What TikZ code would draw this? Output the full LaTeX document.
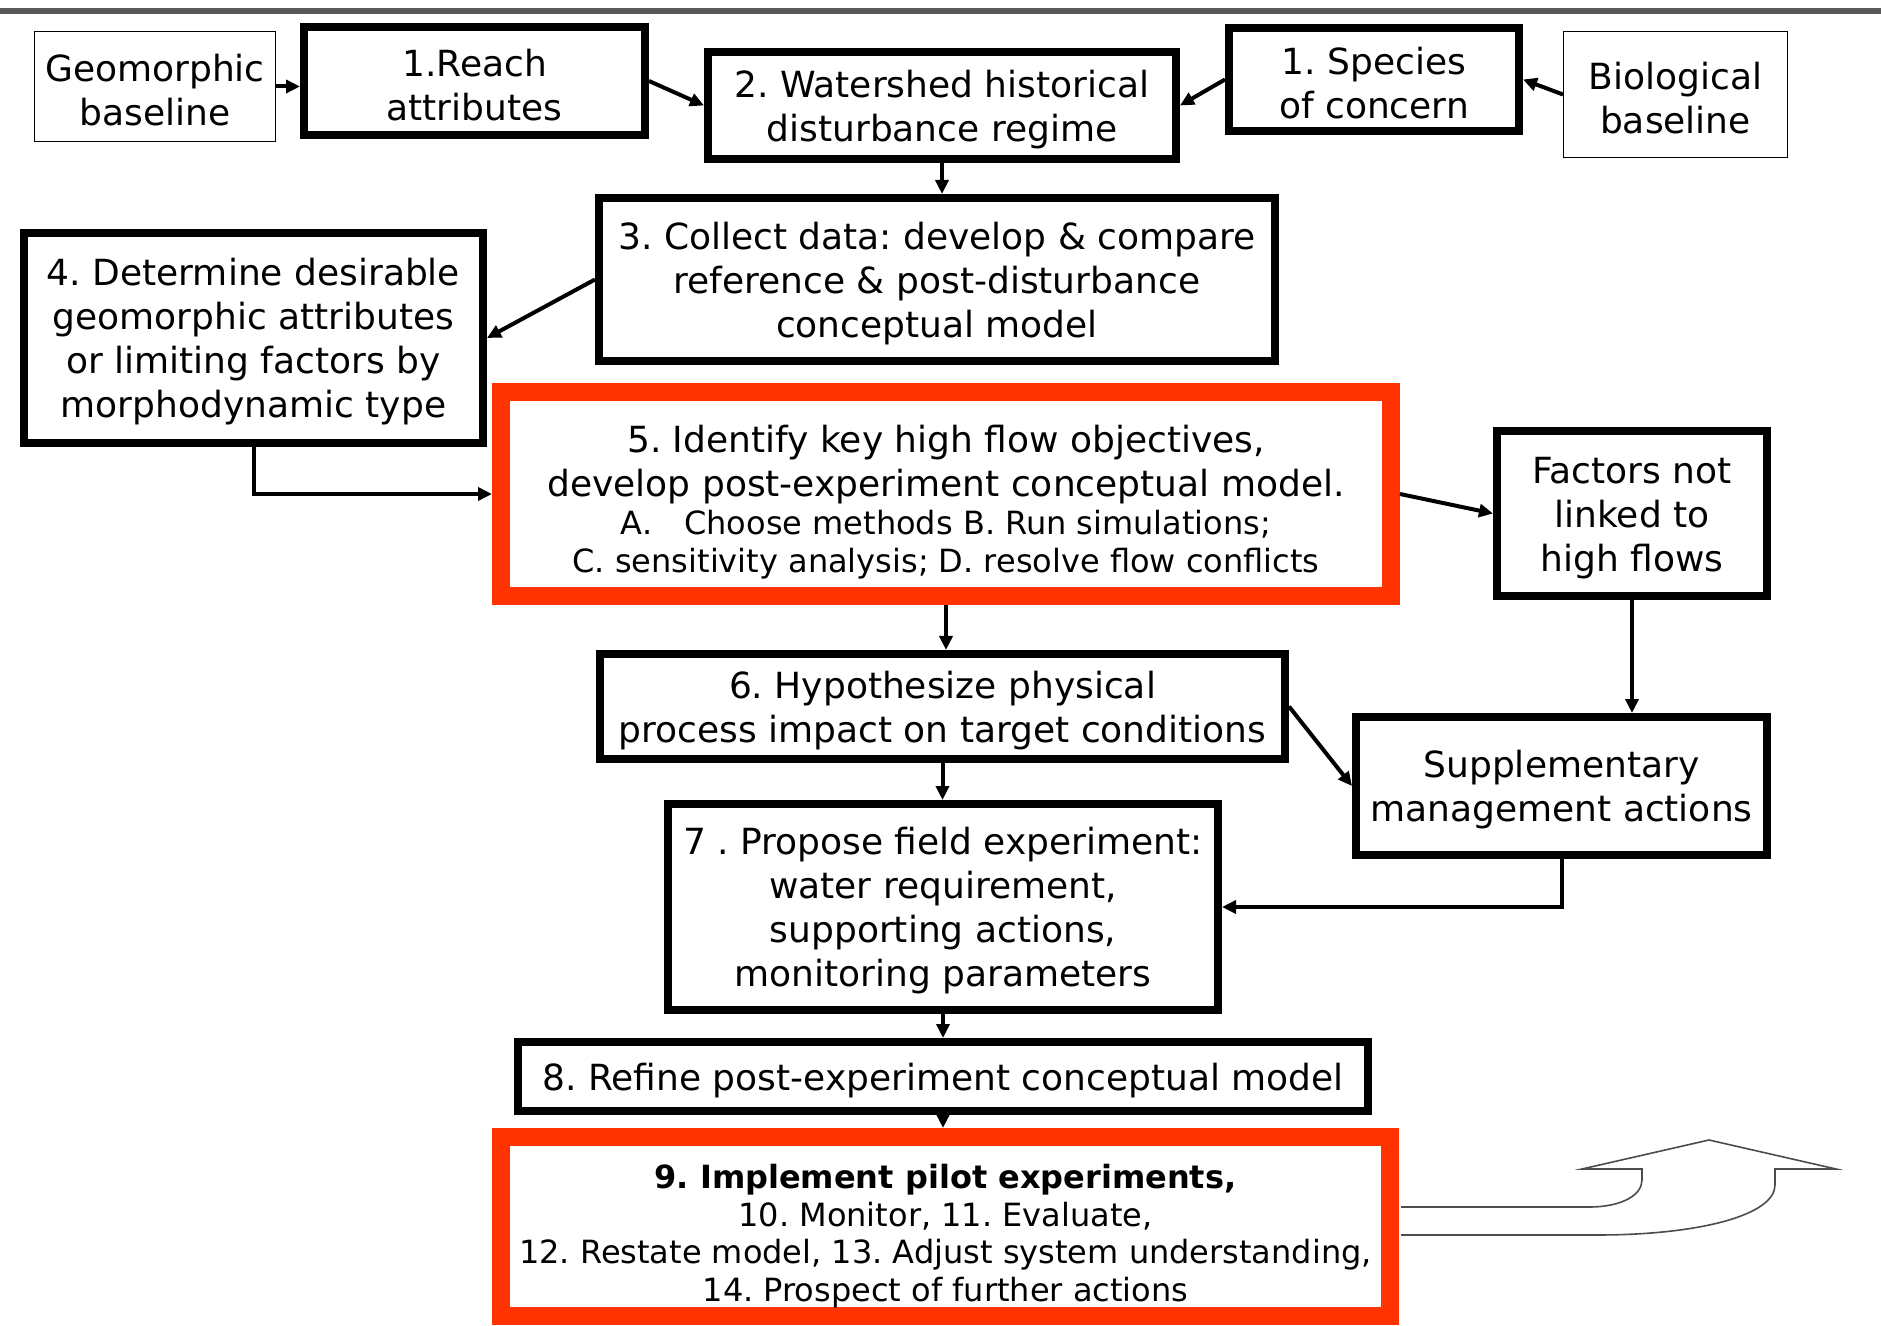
\documentclass[tikz,border=0pt]{standalone}
\usepackage{fontspec}
\setmainfont{DejaVu Sans}
\frenchspacing
\usetikzlibrary{arrows.meta}
\definecolor{hired}{RGB}{255,51,0}
\newcommand{\boxstrut}{\rule{0pt}{17.5pt}}

\begin{document}
\begin{tikzpicture}[x=0.5pt,y=-0.5pt,
  >={Triangle[length=7pt,width=6.5pt]},
  thinbox/.style={draw, line width=0.7pt, align=center, inner sep=0pt,
    font=\fontsize{18}{22}\selectfont},
  thickbox/.style={draw, line width=4pt, align=center, inner sep=0pt,
    font=\fontsize{18}{22}\selectfont},
  redbox/.style={draw=hired, line width=9pt, align=center, inner sep=0pt},
  link/.style={->, line width=2pt}]

  \useasboundingbox (0,0) rectangle (1881,1326);

  % Rule along the top
  \draw[line width=3pt, black!65] (0,11) -- (1881,11);

  % Top row
  \node[thinbox, minimum width=120.3pt, minimum height=54.8pt] (geo) at (155,86.5) {\boxstrut Geomorphic\\baseline};
  \node[thickbox, minimum width=170.5pt, minimum height=54pt] (reach) at (474.5,81) {\boxstrut 1.Reach\\attributes};
  \node[thickbox, minimum width=234pt, minimum height=53.5pt] (water) at (942,105.5) {\boxstrut 2. Watershed historical\\disturbance regime};
  \node[thickbox, minimum width=145pt, minimum height=51.5pt] (species) at (1374,79.5) {\boxstrut 1. Species\\of concern};
  \node[thinbox, minimum width=111.8pt, minimum height=62.8pt] (bio) at (1675.5,94.5) {\boxstrut Biological\\baseline};

  % Data and attributes
  \node[thickbox, minimum width=338pt, minimum height=81.5pt] (collect) at (937,279.5) {\boxstrut 3. Collect data: develop \& compare\\reference \& post-disturbance\\conceptual model};
  \node[thickbox, minimum width=229.5pt, minimum height=105pt] (determine) at (253.5,338) {\boxstrut 4. Determine desirable\\geomorphic attributes\\or limiting factors by\\morphodynamic type};

  % Objectives (highlighted)
  \node[redbox, minimum width=445pt, minimum height=102pt, font=\fontsize{16}{19}\selectfont] (identify) at (946,494)
    {\rule{0pt}{21.5pt}{\fontsize{18}{22}\selectfont 5. Identify key high flow objectives,}\\[3pt]
     {\fontsize{18}{22}\selectfont develop post-experiment conceptual model.}\\[0pt]
     A.\quad Choose methods B. Run simulations;\\
     C. sensitivity analysis; D. resolve flow conflicts};
  \node[thickbox, minimum width=135pt, minimum height=82.5pt] (factors) at (1632,513.5) {\boxstrut Factors not\\linked to\\high flows};

  % Hypothesis and experiment
  \node[thickbox, minimum width=342.5pt, minimum height=52.5pt] (hyp) at (942.5,706.5) {\boxstrut 6. Hypothesize physical\\process impact on target conditions};
  \node[thickbox, minimum width=205.5pt, minimum height=69pt] (supp) at (1561.5,786) {\boxstrut Supplementary\\management actions};
  \node[thickbox, minimum width=275pt, minimum height=103pt] (propose) at (943,907) {\boxstrut 7 . Propose field experiment:\\water requirement,\\supporting actions,\\monitoring parameters};
  \node[thickbox, minimum width=425pt, minimum height=34.5pt] (refine) at (943,1076.5) {\boxstrut 8. Refine post-experiment conceptual model};

  % Implementation (highlighted)
  \node[redbox, minimum width=444.5pt, minimum height=89.5pt, font=\fontsize{16}{18.8}\selectfont] (impl) at (945.5,1226.5)
    {\rule{0pt}{22pt}\textbf{9. Implement pilot experiments,}\\
     10. Monitor, 11. Evaluate,\\
     12. Restate model, 13. Adjust system understanding,\\
     14. Prospect of further actions};

  % Connectors
  \draw[link] (geo.east) -- (geo.east -| reach.west);
  \draw[link] (reach.east) -- (water.west);
  \draw[link] (species.west) -- (water.east);
  \draw[link] (bio.west) -- (species.east);
  \draw[link] (water.south) -- (water.south |- collect.north);
  \draw[link] (collect.west) -- (determine.east);
  \draw[link] (determine.south) |- (identify.west);
  \draw[link] (identify.east) -- (factors.west);
  \draw[link] (identify.south) -- (identify.south |- hyp.north);
  \draw[link] (factors.south) -- (factors.south |- supp.north);
  \draw[link] (hyp.east) -- (supp.west);
  \draw[link] (hyp.south) -- (hyp.south |- propose.north);
  \draw[link] (supp.south) |- (propose.east);
  \draw[link] (propose.south) -- (propose.south |- refine.north);
  \draw[link] (refine.south) -- (refine.south |- impl.north);

  % Open feedback arrow
  \draw[line width=0.8pt, black!70, line join=miter]
    (1401,1207) -- (1589,1207) .. controls (1622,1207) and (1642,1195) .. (1642,1180)
    -- (1642,1169) -- (1582,1169) -- (1709,1140) -- (1836,1169) -- (1775,1169)
    -- (1775,1185) .. controls (1775,1215) and (1700,1235) .. (1597,1235) -- (1401,1235);

\end{tikzpicture}
\end{document}
